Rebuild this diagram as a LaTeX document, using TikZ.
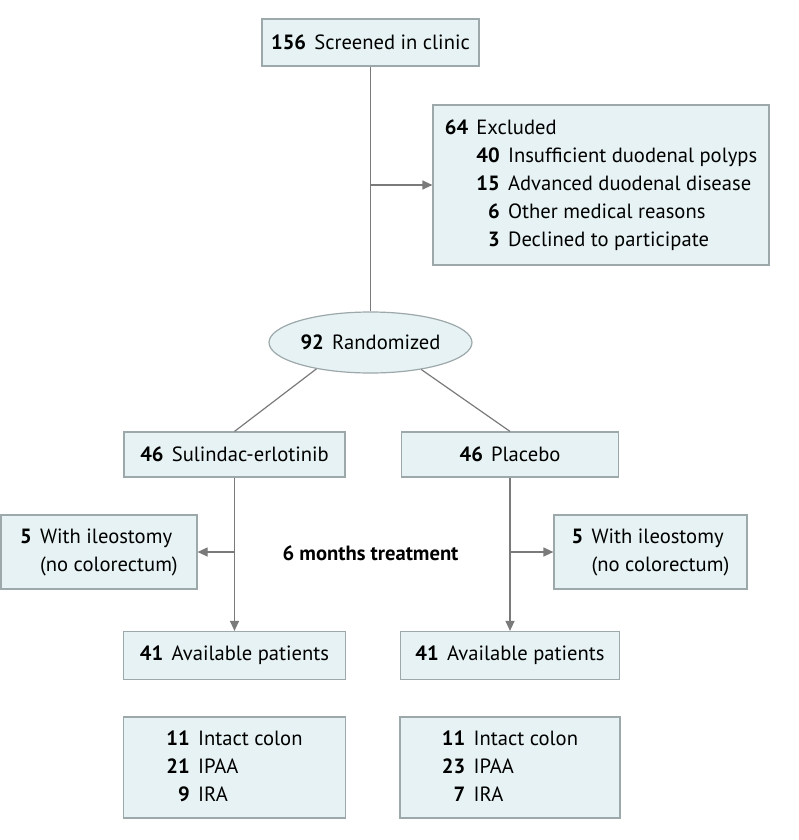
\documentclass[tikz,border=0pt]{standalone}
\usepackage{fontspec}
\setmainfont{PT Sans}
\usetikzlibrary{positioning,shapes.geometric,arrows.meta}
\definecolor{boxfill}{HTML}{E6F2F3}
\definecolor{boxline}{HTML}{9CA8AA}
\definecolor{linegray}{HTML}{7A7A7A}
\newcommand{\cnt}[1]{\textbf{#1}\hspace{0.4em}}

\begin{document}
\begin{tikzpicture}[
  x=1pt, y=-1pt,
  block/.style={rectangle, draw=boxline, fill=boxfill, line width=1.2pt, minimum height=47pt, inner sep=0pt, align=center},
  oval/.style={ellipse, draw=boxline, fill=boxfill, line width=1.2pt, minimum width=203pt, minimum height=61pt, inner sep=0pt},
  line/.style={draw=linegray, line width=1.2pt},
  >={Triangle[length=10pt,width=9pt]},
  node distance=112pt,
  font=\fontsize{20.6}{28}\selectfont
]
\useasboundingbox (0,0) rectangle (798,840);

\node[block, minimum width=217pt] (screen) at (370.5,42.5) {\cnt{156}Screened in clinic};
\node[block, right of=screen, node distance=230.5pt, yshift=-142.5pt, minimum width=336pt, minimum height=160pt] (excl) {%
  \begin{tabular}{@{}l@{\hspace{0.4em}}r@{\hspace{0.4em}}l@{}}
  \textbf{64} & \multicolumn{2}{@{}l@{}}{Excluded}\\
  & \textbf{40} & Insufficient duodenal polyps\\
  & \textbf{15} & Advanced duodenal disease\\
  & \textbf{6} & Other medical reasons\\
  & \textbf{3} & Declined to participate
  \end{tabular}};
\node[oval, below of=screen, node distance=300pt] (rand) {\cnt{92}Randomized};

\node[block, below of=rand, xshift=-136pt, minimum width=221pt, minimum height=45pt] (arm0) {\cnt{46}Sulindac-erlotinib};
\node[block, below of=rand, xshift=139.5pt, minimum width=217pt, minimum height=45pt] (arm1) {\cnt{46}Placebo};
\node[below of=rand, node distance=210.5pt] (treat) {\textbf{6 months treatment}};

\node[block, left of=arm0, node distance=135.5pt, yshift=-97.5pt, minimum width=196pt, minimum height=74pt] (ileo0) {%
  \begin{tabular}{@{}r@{\hspace{0.4em}}l@{}}
  \textbf{5} & With ileostomy\\
  & (no colorectum)
  \end{tabular}};
\node[block, right of=arm1, node distance=140.5pt, yshift=-97.5pt, minimum width=193pt, minimum height=74pt] (ileo1) {%
  \begin{tabular}{@{}r@{\hspace{0.4em}}l@{}}
  \textbf{5} & With ileostomy\\
  & (no colorectum)
  \end{tabular}};

\node[block, below of=arm0, node distance=201pt, minimum width=222pt, minimum height=48pt] (avail0) {\cnt{41}Available patients};
\node[block, below of=arm1, node distance=201pt, minimum width=219pt, minimum height=48pt] (avail1) {\cnt{41}Available patients};

\node[block, below of=avail0, minimum width=222pt, minimum height=101pt] (sub0) {%
  \begin{tabular}{@{}r@{\hspace{0.4em}}l@{}}
  \textbf{11} & Intact colon\\
  \textbf{21} & IPAA\\
  \textbf{9} & IRA
  \end{tabular}};
\node[block, below of=avail1, minimum width=220pt, minimum height=101pt] (sub1) {%
  \begin{tabular}{@{}r@{\hspace{0.4em}}l@{}}
  \textbf{11} & Intact colon\\
  \textbf{23} & IPAA\\
  \textbf{7} & IRA
  \end{tabular}};

\draw[line] (screen) -- (rand);
\draw[->,line] (screen.south |- excl.west) -- (excl.west);
\draw[line] (rand.206) -- (arm0.north);
\draw[line] (rand.332) -- (arm1.north);
\draw[->,line] (arm0) -- (avail0);
\draw[->,line] (arm0.south |- ileo0.east) -- (ileo0.east);
\draw[->,line] (arm1) -- (avail1);
\draw[->,line] (arm1.south |- ileo1.west) -- (ileo1.west);
\end{tikzpicture}
\end{document}
